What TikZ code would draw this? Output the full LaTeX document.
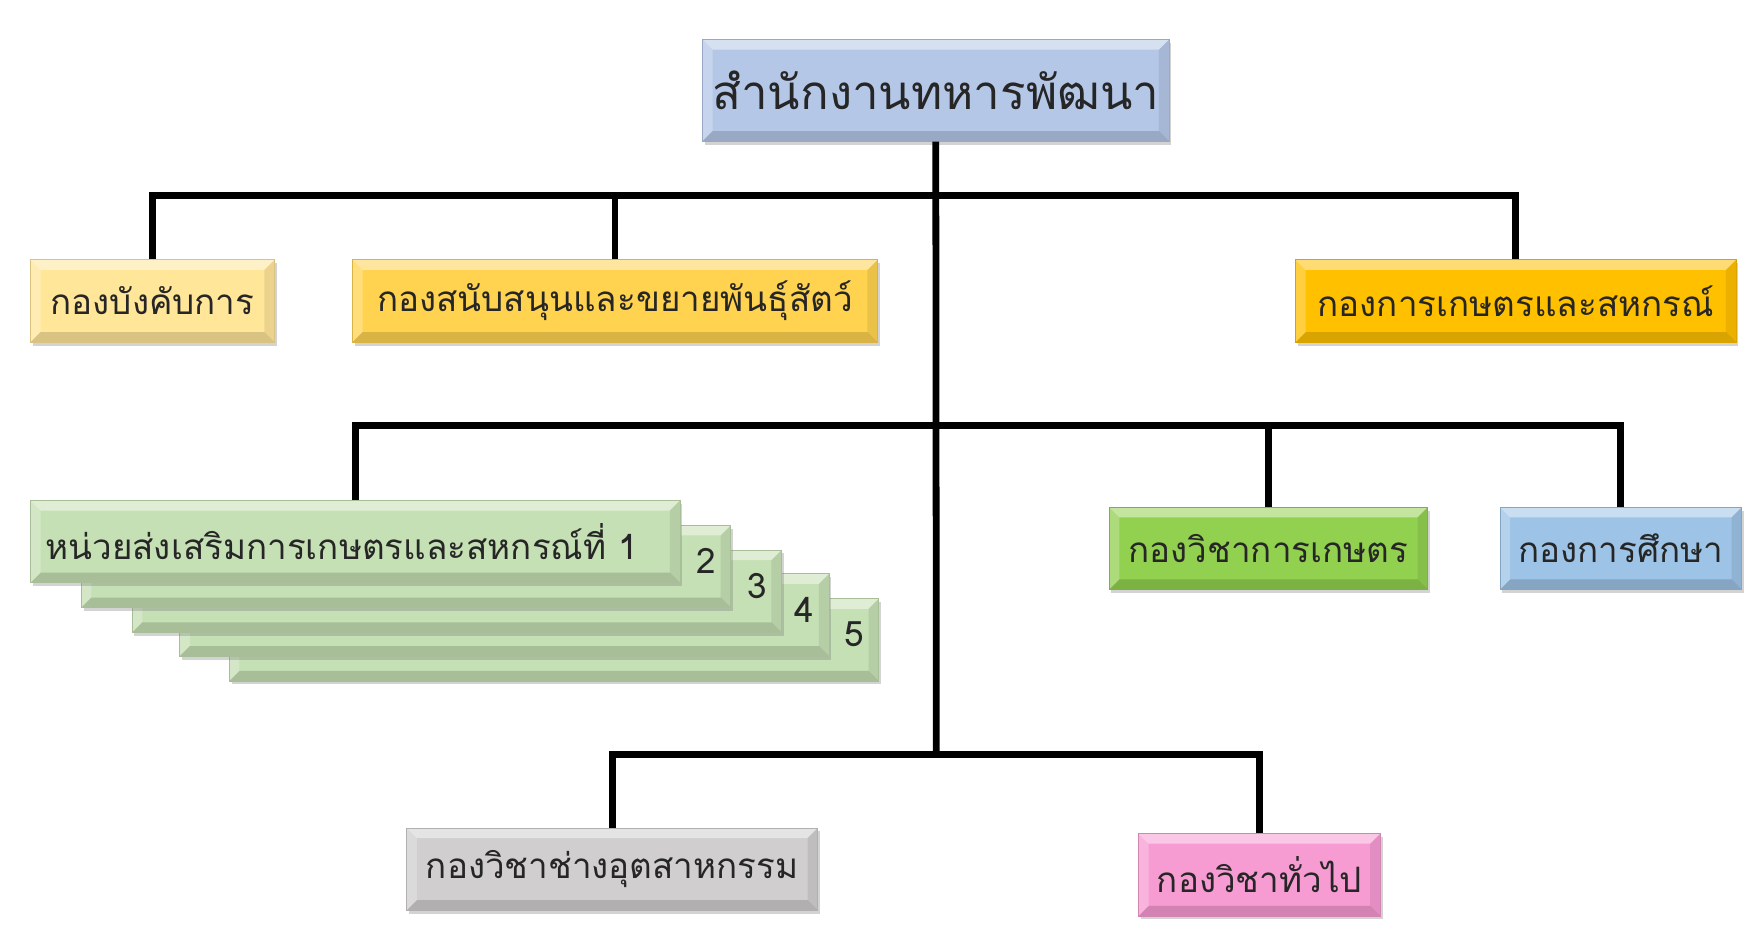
\documentclass[tikz,border=0pt]{standalone}
\usepackage{fontspec}
\newfontfamily\thaifont[Script=Thai]{Loma}
\usetikzlibrary{shadows}
\definecolor{cTop}{HTML}{B4C7E7}
\definecolor{cYelA}{HTML}{FFE699}
\definecolor{cYelB}{HTML}{FFD34F}
\definecolor{cYelC}{HTML}{FFC000}
\definecolor{cGrnA}{HTML}{C5E0B4}
\definecolor{cGrnB}{HTML}{92D050}
\definecolor{cBlu}{HTML}{9DC3E6}
\definecolor{cGry}{HTML}{D0CECE}
\definecolor{cPnk}{HTML}{F79BD3}
\tikzset{
  unit/.style={draw=#1!85!black, line width=0.6pt, fill=#1, inner sep=0pt,
    font=\thaifont\fontsize{31}{36}\selectfont, text=black!85,
    drop shadow={shadow xshift=2pt, shadow yshift=-3pt, opacity=.35},
    path picture={
      \fill[white,opacity=.45] (path picture bounding box.north west) -- (path picture bounding box.north east)
        -- ([shift={(-9pt,-9pt)}]path picture bounding box.north east) -- ([shift={(9pt,-9pt)}]path picture bounding box.north west) -- cycle;
      \fill[white,opacity=.25] (path picture bounding box.north west) -- (path picture bounding box.south west)
        -- ([shift={(9pt,9pt)}]path picture bounding box.south west) -- ([shift={(9pt,-9pt)}]path picture bounding box.north west) -- cycle;
      \fill[black,opacity=.15] (path picture bounding box.south west) -- (path picture bounding box.south east)
        -- ([shift={(-9pt,9pt)}]path picture bounding box.south east) -- ([shift={(9pt,9pt)}]path picture bounding box.south west) -- cycle;
      \fill[black,opacity=.08] (path picture bounding box.north east) -- (path picture bounding box.south east)
        -- ([shift={(-9pt,9pt)}]path picture bounding box.south east) -- ([shift={(-9pt,-9pt)}]path picture bounding box.north east) -- cycle;
    }},
  link/.style={line width=6pt}
}
\newcommand{\unitbox}[7]{%
  \node[unit=#6, minimum width={(#3)-(#2)}, minimum height={(#5)-(#4)}] (#1) at ({((#2)+(#3))/2},{((#4)+(#5))/2}) {#7};}
\begin{document}
\begin{tikzpicture}[x=1pt,y=-1pt]
  \useasboundingbox (0,0) rectangle (1560,822);
  % Junctions
  \coordinate (j1) at (829,173);
  \coordinate (j2) at (829,377);
  \coordinate (j3) at (829,668);
  %
  % Headquarters
  \unitbox{hq}{622}{1035}{35}{125}{cTop}{\fontsize{42}{48}\selectfont สำนักงานทหารพัฒนา}
  %
  % Links
  \draw[link] (hq.south) -- (j3);
  %
  % First row
  \unitbox{cmd}{27}{243}{230}{303}{cYelA}{กองบังคับการ}
  \unitbox{sup}{312}{777}{230}{303}{cYelB}{กองสนับสนุนและขยายพันธุ์สัตว์}
  \unitbox{agr}{1147}{1537}{230}{303}{cYelC}{กองการเกษตรและสหกรณ์}
  \draw[link] (cmd.north) |- (agr.north |- j1) -- (agr.north);
  \draw[link] (sup.north) -- (sup.north |- j1);
  %
  % Second row
  \foreach \i/\dx/\dy in {5/176/87,4/132/65,3/90/44,2/45/22}{
    \unitbox{ext\i}{27+\dx}{602+\dx}{443+\dy}{516+\dy}{cGrnA}{}
    \node[font=\thaifont\fontsize{31}{36}\selectfont, text=black!85] (num\i) at ([shift={(-22pt,-32pt)}]ext\i.north east) {\i};
  }
  \unitbox{ext1}{27}{602}{443}{516}{cGrnA}{}
  \node[font=\thaifont\fontsize{31}{36}\selectfont, text=black!85, anchor=west] (lbl1) at ([xshift=10pt]ext1.west) {หน่วยส่งเสริมการเกษตรและสหกรณ์ที่ 1};
  \unitbox{aca}{982}{1264}{449}{522}{cGrnB}{กองวิชาการเกษตร}
  \unitbox{edu}{1328}{1542}{449}{522}{cBlu}{กองการศึกษา}
  \draw[link] (ext1.north) |- (edu.north |- j2) -- (edu.north);
  \draw[link] (aca.north) -- (aca.north |- j2);
  %
  % Third row
  \unitbox{ind}{360}{724}{733}{806}{cGry}{กองวิชาช่างอุตสาหกรรม}
  \unitbox{gen}{1008}{1222}{738}{811}{cPnk}{กองวิชาทั่วไป}
  \draw[link] (ind.north) |- (j3) -| (gen.north);
\end{tikzpicture}
\end{document}
